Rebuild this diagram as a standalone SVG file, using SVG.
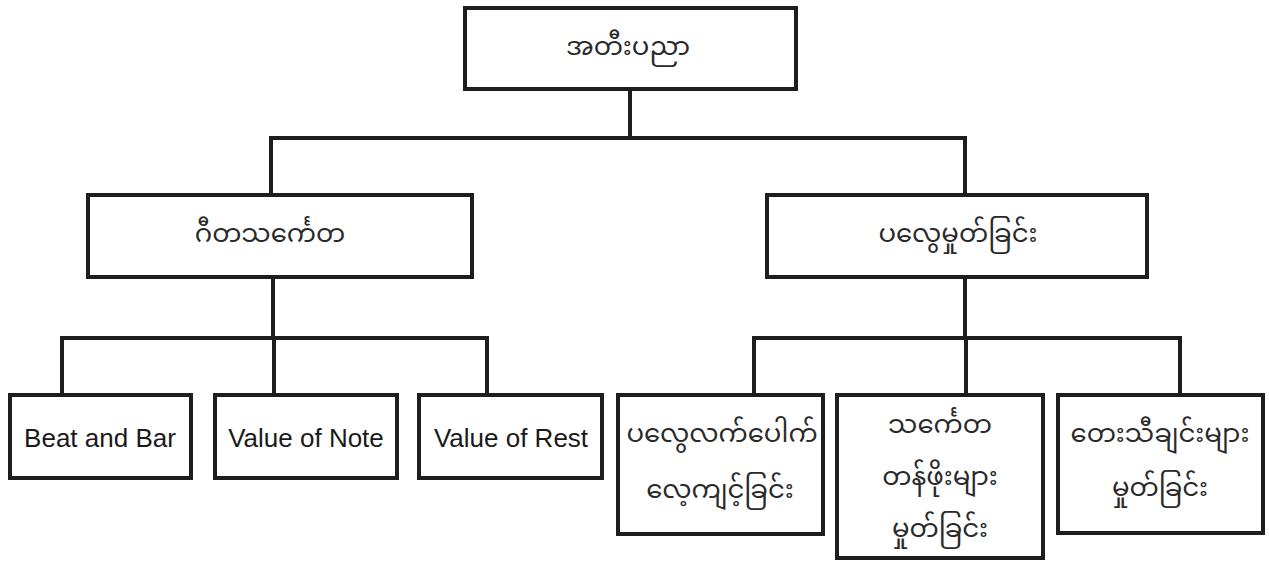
<svg xmlns="http://www.w3.org/2000/svg" width="1269" height="562" viewBox="0 0 1269 562">
  <style>
    .box { fill: #ffffff; stroke: #1e1e1e; stroke-width: 4; }
    .conn { fill: none; stroke: #1e1e1e; stroke-width: 4; stroke-linecap: square; }
    .en { font-family: "Liberation Sans", Arial, sans-serif; font-size: 26px; fill: #1a1a1a; text-anchor: middle; dominant-baseline: central; }
    .my { font-family: "Noto Sans Myanmar", "Padauk", "Myanmar Text", "Myanmar3", "Pyidaungsu", "Noto Sans", sans-serif; font-size: 26px; fill: #2a2a2a; text-anchor: middle; dominant-baseline: central; }
  </style>
  <rect width="1269" height="562" fill="#ffffff"/>
  <g id="connectors">
    <path class="conn" d="M630 89 V138 M271 138 H965 M271 138 V195 M965 138 V195"/>
    <path class="conn" d="M273 277 V338 M62 338 H487 M62 338 V395 M274 338 V395 M487 338 V395"/>
    <path class="conn" d="M965 277 V338 M754 338 H1180 M754 338 V395 M966 338 V395 M1180 338 V395"/>
  </g>
  <g id="node-root">
    <rect class="box" x="465" y="8" width="331" height="81"/>
    <text class="my" x="628" y="49">အတီးပညာ</text>
  </g>
  <g id="node-gita">
    <rect class="box" x="88" y="195" width="384" height="82"/>
    <text class="my" x="270" y="236">ဂီတသင်္ကေတ</text>
  </g>
  <g id="node-palwe">
    <rect class="box" x="767" y="195" width="380" height="82"/>
    <text class="my" x="958" y="236">ပလွေမှုတ်ခြင်း</text>
  </g>
  <g id="node-beat">
    <rect class="box" x="10" y="395" width="181" height="83"/>
    <text class="en" x="100" y="438">Beat and Bar</text>
  </g>
  <g id="node-note">
    <rect class="box" x="215" y="395" width="182" height="83"/>
    <text class="en" x="306" y="438">Value of Note</text>
  </g>
  <g id="node-rest">
    <rect class="box" x="419" y="395" width="183" height="83"/>
    <text class="en" x="511" y="438">Value of Rest</text>
  </g>
  <g id="node-finger">
    <rect class="box" x="618" y="395" width="205" height="139"/>
    <text class="my" x="722" y="436">ပလွေလက်ပေါက်</text>
    <text class="my" x="720" y="492">လေ့ကျင့်ခြင်း</text>
  </g>
  <g id="node-symbol">
    <rect class="box" x="837" y="395" width="206" height="163"/>
    <text class="my" x="940" y="427">သင်္ကေတ</text>
    <text class="my" x="940" y="479">တန်ဖိုးများ</text>
    <text class="my" x="940" y="531">မှုတ်ခြင်း</text>
  </g>
  <g id="node-song">
    <rect class="box" x="1058" y="395" width="205" height="138"/>
    <text class="my" x="1160" y="436">တေးသီချင်းများ</text>
    <text class="my" x="1160" y="490">မှုတ်ခြင်း</text>
  </g>
</svg>
